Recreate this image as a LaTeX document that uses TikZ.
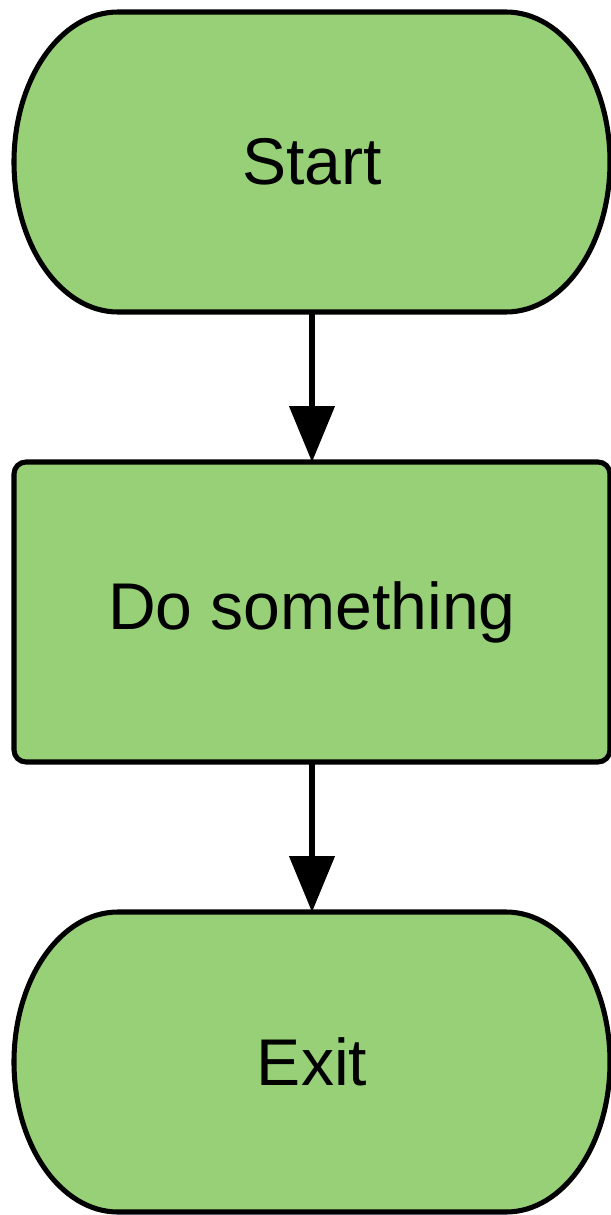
\documentclass[tikz,border=0pt]{standalone}
\usepackage{fontspec}
\setmainfont{Liberation Sans}
\usetikzlibrary{arrows.meta, positioning, backgrounds}
\definecolor{cgreen}{HTML}{97D077}
\definecolor{cblack}{HTML}{000000}
\tikzset{
  every picture/.style={line width=3.6pt},
  term/.style={minimum width=14.9cm, minimum height=7.5cm, outer sep=0pt, align=center, font=\fontsize{47}{56}\selectfont},
  termline/.style={draw=cblack, fill=cgreen, line width=3.6pt},
  box/.style={draw=cblack, fill=cgreen, rounded corners=0.3cm, minimum width=14.9cm, minimum height=7.5cm, outer sep=0pt, align=center, font=\fontsize{47}{56}\selectfont},
  arrow/.style={-{Triangle[length=1.4cm, width=1.12cm]}, draw=cblack, line width=3.6pt},
}
\begin{document}
\begin{tikzpicture}
  \useasboundingbox (0,0) rectangle (15.275,-30.375);
  \node[term] (start) at (7.8,-4.05) {Start};
  \node[box, below=3.75cm of start] (work) {Do something};
  \node[term, below=3.75cm of work] (exit) {Exit};
  \begin{scope}[on background layer]
    \foreach \n in {start, exit}
      \draw[termline] ([xshift=2.6cm]\n.north west) -- ([xshift=-2.6cm]\n.north east)
        arc[start angle=90, end angle=-90, x radius=2.6cm, y radius=3.75cm]
        -- ([xshift=2.6cm]\n.south west)
        arc[start angle=270, end angle=90, x radius=2.6cm, y radius=3.75cm] -- cycle;
  \end{scope}
  \draw[arrow] (start) -- (work);
  \draw[arrow] (work) -- (exit);
\end{tikzpicture}
\end{document}
